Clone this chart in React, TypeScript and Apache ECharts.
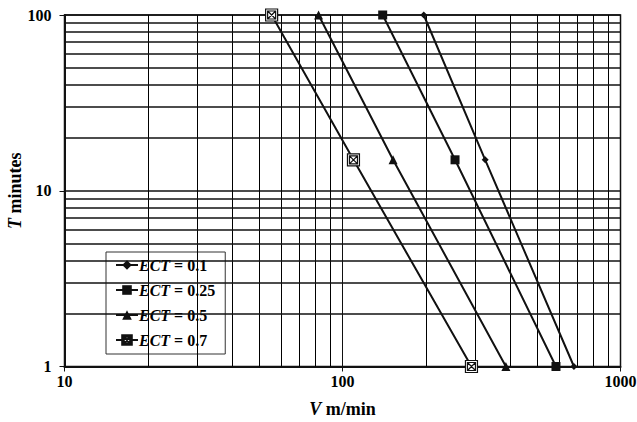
import React, { useEffect, useRef } from "react";
import * as echarts from "echarts";

const tValues = [100, 15, 1];
const vEct01 = [196, 326, 680];
const vEct025 = [139.5, 254, 586];
const vEct05 = [82, 152, 387];
const vEct07 = [55.6, 109.5, 291];
const seriesNames = ["ECT = 0.1", "ECT = 0.25", "ECT = 0.5", "ECT = 0.7"];
const xMinorGrid = [20, 30, 40, 50, 60, 70, 80, 90, 200, 300, 400, 500, 600, 700, 800, 900];
const yMinorGrid = [2, 3, 4, 5, 6, 7, 8, 9, 20, 30, 40, 50, 60, 70, 80, 90];

const FONT = "Liberation Serif";
const INK = "#111";
const crossSquare =
  "path://M0,0 L12,0 L12,12 L0,12 Z M2,2 L10,2 L10,10 L2,10 Z M2,2 L10,10 M10,2 L2,10";

const italicRich = (size: number) => ({
  i: { fontFamily: FONT, fontWeight: "bold", fontStyle: "italic", fontSize: size, color: "#000" },
});

export default function App() {
  const ref = useRef<HTMLDivElement>(null);
  useEffect(() => {
    if (!ref.current) return;
    const chart = echarts.init(ref.current, undefined, { renderer: "svg" });
    const mk = (name: string, vs: number[], symbol: string, size: number, extra: any = {}) => ({
      name,
      type: "line",
      data: vs.map((v, i) => [v, tValues[i]]),
      symbol,
      symbolSize: size,
      showSymbol: true,
      lineStyle: { color: INK, width: 2 },
      itemStyle: { color: INK, ...extra },
      z: 5,
    });
    const option: any = {
      animation: false,
      backgroundColor: "#fff",
      textStyle: { fontFamily: FONT },
      grid: {
        left: 64.5,
        right: 16.5,
        top: 15,
        bottom: 55.5,
        containLabel: false,
        outerBoundsMode: "none",
        show: true,
        borderColor: INK,
        borderWidth: 1.5,
      },
      legend: {
        orient: "vertical",
        left: 106,
        top: 252,
        backgroundColor: "#fff",
        borderColor: "#333",
        borderWidth: 1,
        padding: [5, 10, 6, 9],
        itemGap: 9,
        itemWidth: 22,
        itemHeight: 12,
        data: seriesNames,
        formatter: (n: string) => n.replace("ECT", "{i|ECT}"),
        textStyle: {
          fontFamily: FONT,
          fontWeight: "bold",
          fontSize: 16,
          color: "#000",
          padding: [0, 0, 0, -4],
          rich: italicRich(16),
        },
      },
      xAxis: {
        type: "log",
        logBase: 10,
        min: 10,
        max: 1000,
        name: "{i|V} m/min",
        nameLocation: "middle",
        nameGap: 33,
        nameMoveOverlap: false,
        nameTextStyle: {
          fontFamily: FONT,
          fontWeight: "bold",
          fontSize: 18,
          color: "#000",
          rich: italicRich(18),
        },
        axisLine: { show: true, lineStyle: { color: INK, width: 2 } },
        axisTick: { show: true, inside: false, length: 5, lineStyle: { color: INK, width: 1 } },
        axisLabel: {
          fontFamily: FONT,
          fontWeight: "bold",
          fontSize: 16,
          color: "#000",
          margin: 7,
          formatter: (v: number) => String(Math.round(v)),
        },
        splitLine: { show: true, lineStyle: { color: INK, width: 1 } },
      },
      yAxis: {
        type: "log",
        logBase: 10,
        min: 1,
        max: 100,
        name: "{i|T} minutes",
        nameLocation: "middle",
        nameGap: 41,
        nameMoveOverlap: false,
        nameRotate: 90,
        nameTextStyle: {
          fontFamily: FONT,
          fontWeight: "bold",
          fontSize: 18,
          color: "#000",
          rich: italicRich(18),
        },
        axisLine: { show: true, lineStyle: { color: INK, width: 2 } },
        axisTick: { show: true, inside: false, length: 5, lineStyle: { color: INK, width: 1 } },
        axisLabel: {
          fontFamily: FONT,
          fontWeight: "bold",
          fontSize: 16,
          color: "#000",
          margin: 13,
          formatter: (v: number) => String(Math.round(v)),
        },
        splitLine: { show: true, lineStyle: { color: INK, width: 1.5 } },
      },
      series: [
        {
          name: "grid",
          type: "line",
          data: [],
          silent: true,
          z: 1,
          markLine: {
            silent: true,
            symbol: "none",
            animation: false,
            label: { show: false },
            lineStyle: { color: "#000", width: 1, type: "solid" },
            data: [
              ...xMinorGrid.map((v) => ({ xAxis: v })),
              ...yMinorGrid.map((v) => ({ yAxis: v, lineStyle: { color: "#111", width: 1.5, type: "solid" } })),
            ],
          },
        },
        mk(seriesNames[0], vEct01, "diamond", 7),
        mk(seriesNames[1], vEct025, "rect", 9),
        mk(seriesNames[2], vEct05, "triangle", 9),
        mk(seriesNames[3], vEct07, crossSquare, 12, { color: "#fff", borderColor: INK, borderWidth: 1.2 }),
      ],
    };
    chart.setOption(option);
    return () => chart.dispose();
  }, []);
  return <div ref={ref} style={{ position: "fixed", left: 0, top: 0, width: 637, height: 422 }} />;
}
